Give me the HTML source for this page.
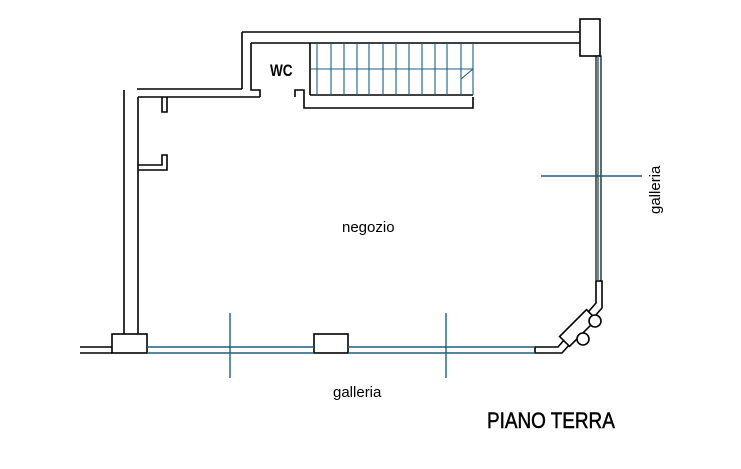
<!DOCTYPE html>
<html><head><style>body{margin:0;background:#fff}svg{display:block}</style></head><body>
<svg width="741" height="469" viewBox="0 0 741 469" xmlns="http://www.w3.org/2000/svg">
<rect width="741" height="469" fill="#fff"/>
<g fill="none" stroke="#000" stroke-width="1.6">
<line x1="242" y1="32" x2="580" y2="32"/>
<line x1="251" y1="43" x2="580" y2="43"/>
<line x1="242" y1="32" x2="242" y2="89"/>
<polyline points="251,43 251,90 260,90 260,97"/>
<line x1="137" y1="89" x2="242" y2="89"/>
<line x1="138" y1="97" x2="260" y2="97"/>
<line x1="124" y1="90" x2="124" y2="334"/>
<line x1="138" y1="97" x2="138" y2="334"/>
<polyline points="162,97 162,112 167,112 167,97"/>
<polyline points="138,165 162,165 162,155 167,155 167,170 138,170"/>
<polyline points="295,97 295,90 304,90 304,108 473,108 473,97"/>
<line x1="310" y1="43" x2="310" y2="95"/>
<line x1="310" y1="95" x2="473" y2="95"/>
<rect x="580" y="19" width="20" height="37"/>
<rect x="596" y="56" width="5" height="225" stroke-width="1.2"/>
<polyline points="596,281 596,303 558,347 535,347 535,353 562,353 602,308 602,281 596,281"/>
<g transform="translate(578,328) rotate(-45)"><rect x="-19" y="-7" width="38" height="14" fill="#fff"/></g>
<circle cx="595" cy="321" r="6" fill="#fff"/>
<circle cx="583" cy="339" r="6" fill="#fff"/>
<line x1="80" y1="347" x2="112" y2="347"/>
<line x1="80" y1="353" x2="112" y2="353"/>
<rect x="112" y="334" width="35" height="19"/>
<rect x="314" y="334" width="34" height="19"/>
</g>
<g stroke="#1d5f80" stroke-width="1.4" fill="none">
<line x1="147" y1="347" x2="314" y2="347"/><line x1="147" y1="353" x2="314" y2="353"/>
<line x1="348" y1="347" x2="535" y2="347"/><line x1="348" y1="353" x2="535" y2="353"/>
<line x1="230" y1="313" x2="230" y2="378"/>
<line x1="446" y1="313" x2="446" y2="378"/>
<line x1="541" y1="176" x2="642" y2="176"/>
<line x1="598" y1="56" x2="598" y2="281"/>
<g stroke-width="1.1">
<line x1="317" y1="43" x2="317" y2="95"/><line x1="331" y1="43" x2="331" y2="95"/><line x1="344" y1="43" x2="344" y2="95"/><line x1="357" y1="43" x2="357" y2="95"/><line x1="369" y1="43" x2="369" y2="95"/><line x1="383" y1="43" x2="383" y2="95"/><line x1="396" y1="43" x2="396" y2="95"/><line x1="409" y1="43" x2="409" y2="95"/><line x1="422" y1="43" x2="422" y2="95"/><line x1="435" y1="43" x2="435" y2="95"/><line x1="447" y1="43" x2="447" y2="95"/><line x1="461" y1="43" x2="461" y2="95"/><line x1="473" y1="43" x2="473" y2="95"/>
<line x1="311" y1="69" x2="473" y2="69"/>
<line x1="461" y1="79" x2="473" y2="69"/>
</g>
</g>
<g font-family="Liberation Sans, sans-serif" fill="#000">
<text x="270" y="76" font-size="17" font-weight="bold" transform="translate(270,0) scale(0.8,1) translate(-270,0)">WC</text>
<text x="342" y="232" font-size="15">negozio</text>
<text x="333" y="397" font-size="15">galleria</text>
<text transform="translate(660,214) rotate(-90)" font-size="15">galleria</text>
<text x="487" y="428" font-size="22" stroke="#000" stroke-width="0.5" transform="translate(487,0) scale(0.86,1) translate(-487,0)">PIANO TERRA</text>
</g>
</svg>
</body></html>
